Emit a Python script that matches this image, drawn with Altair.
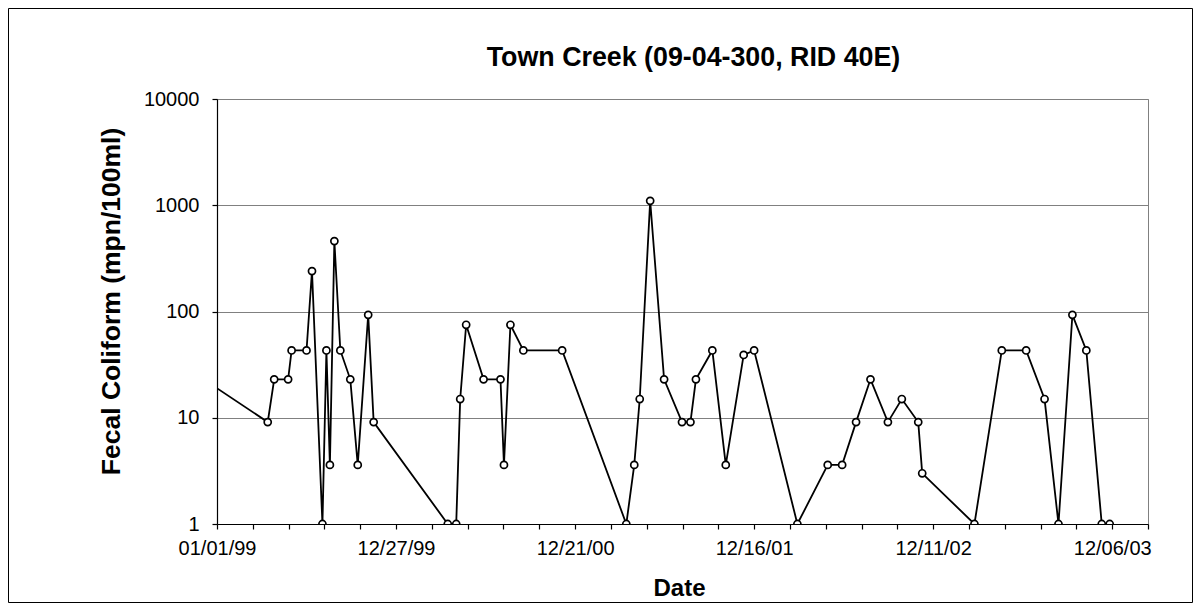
import altair as alt
import pandas as pd

# Sampling dates and fecal coliform values (mpn/100ml)
dates = [
    "1998-09-09",
    "1999-04-13", "1999-04-26", "1999-05-24", "1999-05-31", "1999-06-30",
    "1999-07-11", "1999-08-01", "1999-08-09", "1999-08-16", "1999-08-25",
    "1999-09-06", "1999-09-26", "1999-10-11", "1999-11-01", "1999-11-12",
    "2000-04-09", "2000-04-26", "2000-05-04", "2000-05-16", "2000-06-20",
    "2000-07-24", "2000-07-31", "2000-08-13", "2000-09-08", "2000-11-25",
    "2001-04-03", "2001-04-19", "2001-04-30", "2001-05-21", "2001-06-18",
    "2001-07-24", "2001-08-10", "2001-08-21", "2001-09-23", "2001-10-20",
    "2001-11-25", "2001-12-16", "2002-03-13", "2002-05-13", "2002-06-11",
    "2002-07-09", "2002-08-07", "2002-09-11", "2002-10-09", "2002-11-11",
    "2002-11-19", "2003-03-04", "2003-04-28", "2003-06-16", "2003-07-23",
    "2003-08-20", "2003-09-17", "2003-10-15", "2003-11-15", "2003-12-01",
]
values = [
    43,
    9.1, 23, 23, 43, 43,
    240, 1, 43, 3.6, 460,
    43, 23, 3.6, 93, 9.1,
    1, 1, 15, 75, 23,
    23, 3.6, 75, 43, 43,
    1, 3.6, 15, 1100, 23,
    9.1, 9.1, 23, 43, 3.6,
    39, 43, 1, 3.6, 3.6,
    9.1, 23, 9.1, 15, 9.1,
    3, 1, 43, 43, 15,
    1, 93, 43, 1, 1,
]
y_ticks = [1, 10, 100, 1000, 10000]
x_start = "1999-01-01"
x_step_days = 72       # minor tick step
x_label_days = 360     # labelled tick step
x_end_days = 1872
chart_title = "Town Creek (09-04-300, RID 40E)"

t0 = pd.Timestamp(x_start)
days = [(pd.Timestamp(d) - t0).days for d in dates]
df = pd.DataFrame({"day": days, "value": values, "date": dates})

FONT = "Liberation Sans"
W, H = 931, 425
PAD = {"left": 209, "top": 91, "right": 45, "bottom": 79}

label_expr = (
    f"datum.value % {x_label_days} === 0 ? "
    f"timeFormat(datetime(1999, 0, 1 + datum.value), '%m/%d/%y') : ''"
)

x_enc = alt.X(
    "day:Q",
    scale=alt.Scale(domain=[0, x_end_days], nice=False, zero=False),
    axis=alt.Axis(
        values=list(range(0, x_end_days + 1, x_step_days)),
        labelExpr=label_expr,
        title="Date",
        grid=False,
        labelFlush=False,
        labelOverlap=False,
        tickSize=5,
        labelPadding=9,
        titlePadding=18,
        titleX=462,
    ),
)
y_enc = alt.Y(
    "value:Q",
    scale=alt.Scale(type="log", domain=[1, 10000], nice=False),
    axis=alt.Axis(
        values=y_ticks,
        format="d",
        title="Fecal Coliform (mpn/100ml)",
        titleFontSize=26.5,
        grid=True,
        gridColor="#808080",
        gridWidth=1,
        tickSize=5,
        labelPadding=13,
        labelOverlap=False,
        titleX=-92,
        titleY=202,
    ),
)

base = alt.Chart(df)
line = base.mark_line(color="black", strokeWidth=1.8, clip=True).encode(
    x=x_enc, y=y_enc, order="day:Q"
)
pts = base.mark_point(
    shape="circle", filled=False, fill="white", fillOpacity=1,
    stroke="black", strokeWidth=1.7, size=50, opacity=1, clip=True
).encode(x=x_enc, y=y_enc)

one = pd.DataFrame({"t": [chart_title]})
title_mark = alt.Chart(one).mark_text(
    font=FONT, fontSize=26.8, fontWeight="bold", color="black",
    align="center", baseline="alphabetic"
).encode(
    text="t:N",
    x=alt.value(W / 2 + 11),
    y=alt.value(-33),
)

frame = alt.Chart(one).mark_rect(
    fill=None, stroke="black", strokeWidth=1
).encode(
    x=alt.value(-PAD["left"] + 0.5),
    x2=alt.value(W + PAD["right"] - 0.5),
    y=alt.value(-PAD["top"] + 0.5),
    y2=alt.value(H + PAD["bottom"] - 0.5),
)

chart = (
    alt.layer(line, pts, title_mark, frame)
    .properties(
        width=W,
        height=H,
        autosize=alt.AutoSizeParams(type="none"),
        padding=PAD,
        background="white",
    )
    .configure_view(stroke="#808080", strokeWidth=1)
    .configure_axis(
        labelFont=FONT, titleFont=FONT, labelFontSize=20, titleFontSize=24,
        titleFontWeight="bold", labelColor="black", titleColor="black",
        domainColor="black", tickColor="black", domainWidth=1.2, tickWidth=1.2,
        labelOverlap=False,
    )
)

chart.save("out.html", embed_options={"renderer": "svg", "actions": False})
